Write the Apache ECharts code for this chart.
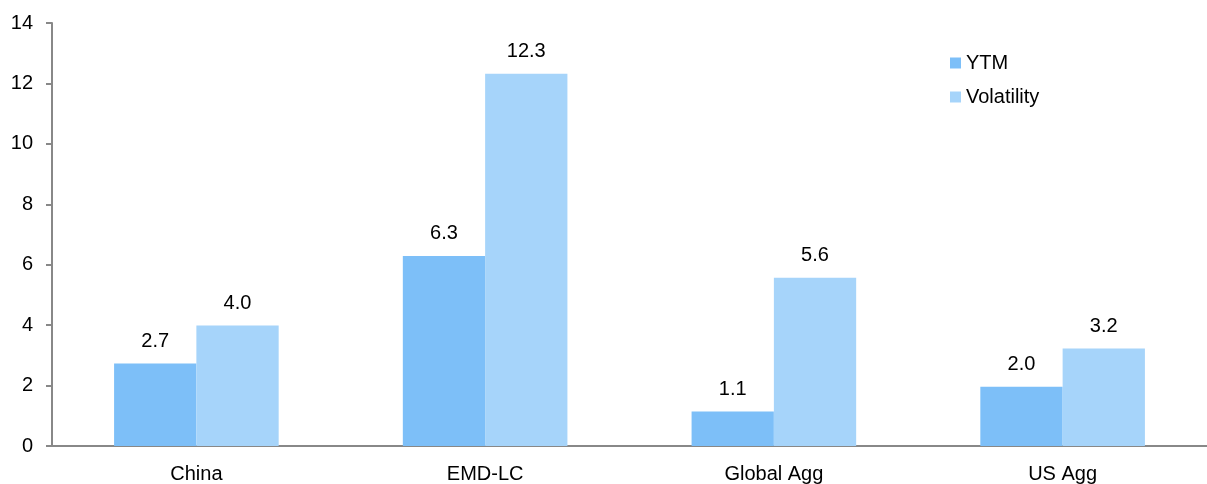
<!DOCTYPE html>
<html>
<head>
<meta charset="utf-8">
<script src="https://cdn.jsdelivr.net/npm/echarts@6/dist/echarts.min.js"></script>
<style>html,body{margin:0;padding:0;background:#fff;}#c{width:1207px;height:484px;}</style>
</head>
<body>
<div id="c"></div>
<script>
var categories = ['China', 'EMD-LC', 'Global Agg', 'US Agg'];
var ytm = [2.73, 6.29, 1.14, 1.96];
var volatility = [3.99, 12.32, 5.57, 3.23];
var yTicks = [0, 2, 4, 6, 8, 10, 12, 14];

var font = 'Liberation Sans, Arial, sans-serif';
var chart = echarts.init(document.getElementById('c'), null, {renderer: 'canvas'});
var labelCfg = {
  show: true, position: 'top', distance: 12,
  color: '#000', fontFamily: font, fontSize: 20,
  formatter: function (p) { return p.value.toFixed(1); }
};
chart.setOption({
  animation: false,
  grid: {left: 52, right: 0, top: 23, bottom: 36, containLabel: false},
  legend: {
    orient: 'vertical', left: 950, top: 53, padding: 0,
    itemWidth: 11, itemHeight: 11, itemGap: 14,
    icon: 'rect',
    textStyle: {fontFamily: font, fontSize: 20, color: '#000'},
    data: ['YTM', 'Volatility']
  },
  xAxis: {
    type: 'category', data: categories,
    axisLine: {lineStyle: {color: '#888', width: 2}},
    axisTick: {show: false},
    axisLabel: {color: '#000', fontFamily: font, fontSize: 20, margin: 18}
  },
  yAxis: {
    type: 'value', min: yTicks[0], max: yTicks[yTicks.length - 1], interval: 2,
    axisLine: {show: true, lineStyle: {color: '#888', width: 2}},
    axisTick: {show: true, length: 6, lineStyle: {color: '#888', width: 2}},
    splitLine: {show: false},
    axisLabel: {color: '#000', fontFamily: font, fontSize: 20, margin: 19}
  },
  series: [
    {name: 'YTM', type: 'bar', data: ytm, barGap: '0%', barCategoryGap: '43%',
     itemStyle: {color: '#7DBFF8'}, label: labelCfg},
    {name: 'Volatility', type: 'bar', data: volatility, barGap: '0%', barCategoryGap: '43%',
     itemStyle: {color: '#A6D4FA'}, label: labelCfg}
  ]
});
</script>
</body>
</html>
